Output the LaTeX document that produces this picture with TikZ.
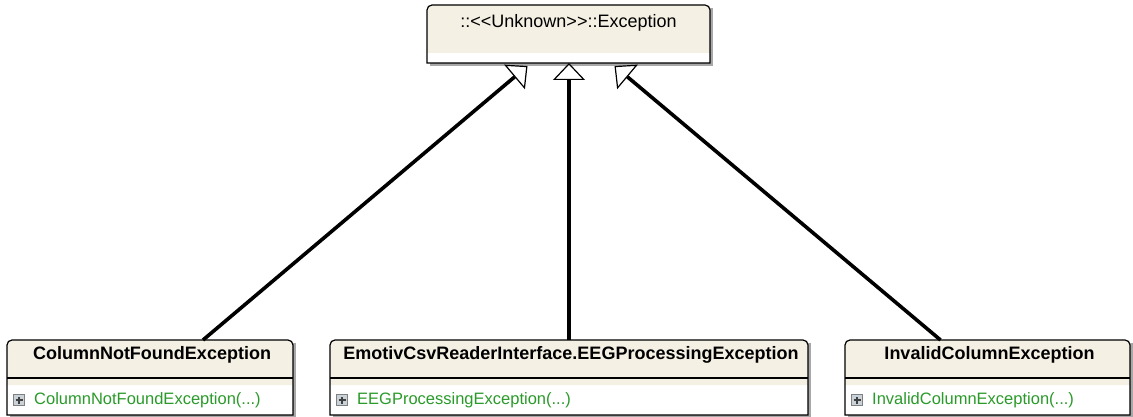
\documentclass[tikz,border=0pt]{standalone}
\usepackage{fontspec}
\setmainfont{Liberation Sans}
\usetikzlibrary{arrows.meta}
\definecolor{cream}{HTML}{F5F0E4}
\definecolor{shadowgray}{HTML}{A8A8A8}
\definecolor{membergreen}{HTML}{2A9A2A}
\definecolor{iconfill}{HTML}{C8D2D8}

% frame of a class box: #1 node, #2 depth of the cream band, #3 depth of the divider
\newcommand{\umlframe}[3]{%
  \fill[shadowgray] ([shift={(3,3)}]#1.south west) rectangle ([shift={(3,3)}]#1.north east);
  \fill[white] (#1.south west) rectangle (#1.north east);
  \fill[cream] ([shift={(0,#2)}]#1.north west) [rounded corners=5] -- (#1.north west)
    -- (#1.north east) [sharp corners] -- ([shift={(0,#2)}]#1.north east) -- cycle;
  \ifx&#3&\else
    \draw[line width=1.2] ([shift={(0,#3)}]#1.north west) -- ([shift={(0,#3)}]#1.north east);
  \fi
  \draw[line width=1.2] (#1.south west) [rounded corners=5] -- (#1.north west)
    -- (#1.north east) [sharp corners] -- (#1.south east) -- cycle;
}

\begin{document}
\begin{tikzpicture}[x=1pt, y=-1pt,
    classbox/.style = {inner sep=0, outer sep=0},
    classtitle/.style = {inner sep=0, font=\fontsize{18}{21}\selectfont\bfseries},
    member/.style = {inner sep=0, anchor=west, text=membergreen, font=\fontsize{16.5}{20}\selectfont},
    plusbox/.style = {draw=gray, fill=iconfill, line width=1, minimum size=11, inner sep=0,
        path picture={\draw[black!75, line width=1.6]
            ([xshift=-3.5]path picture bounding box.center) -- ([xshift=3.5]path picture bounding box.center)
            ([yshift=-3.5]path picture bounding box.center) -- ([yshift=3.5]path picture bounding box.center);}},
    inherit/.style = {line width=3.6, -{Triangle[open, fill=white, length=17, width=32, line width=1.2]}}]
\useasboundingbox[fill=white] (0,0) rectangle (1133,417);

% boxes
\node[classbox, minimum width=283, minimum height=58] (exc) at (568.5,34) {};
\node[classbox, minimum width=286, minimum height=75] (colnf) at (150,377.5) {};
\node[classbox, minimum width=478, minimum height=75] (emo) at (569,377.5) {};
\node[classbox, minimum width=285, minimum height=75] (invc) at (987.5,377.5) {};

\umlframe{exc}{48}{}
\umlframe{colnf}{45}{38}
\umlframe{emo}{45}{38}
\umlframe{invc}{45}{38}

% texts
\node[inner sep=0, font=\fontsize{18}{21}\selectfont] (exc-t) at ([shift={(0,18)}]exc.north) {::<{}<Unknown>{}>::Exception};

\node[classtitle] (colnf-t) at ([shift={(2,15)}]colnf.north) {ColumnNotFoundException};
\node[plusbox] (colnf-i) at ([shift={(12,60)}]colnf.north west) {};
\node[member] (colnf-m) at ([shift={(27,60)}]colnf.north west) {ColumnNotFoundException(...)};

\node[classtitle] (emo-t) at ([shift={(2,15)}]emo.north) {EmotivCsvReaderInterface.EEGProcessingException};
\node[plusbox] (emo-i) at ([shift={(12,60)}]emo.north west) {};
\node[member] (emo-m) at ([shift={(27,60)}]emo.north west) {EEGProcessingException(...)};

\node[classtitle] (invc-t) at ([shift={(2,15)}]invc.north) {InvalidColumnException};
\node[plusbox] (invc-i) at ([shift={(12,60)}]invc.north west) {};
\node[member] (invc-m) at ([shift={(27,60)}]invc.north west) {InvalidColumnException(...)};

% generalisations
\coordinate (colnf-e) at ([xshift=53]colnf.north);
\coordinate (invc-e) at ([xshift=-47]invc.north);
\coordinate (exc-l) at ([shift={(-41,3)}]exc.south);
\coordinate (exc-r) at ([shift={(46,3)}]exc.south);

\draw[inherit] (colnf-e) -- (exc-l);
\draw[inherit] (emo.north) -- (emo.north |- exc.south);
\draw[inherit] (invc-e) -- (exc-r);
\end{tikzpicture}
\end{document}
